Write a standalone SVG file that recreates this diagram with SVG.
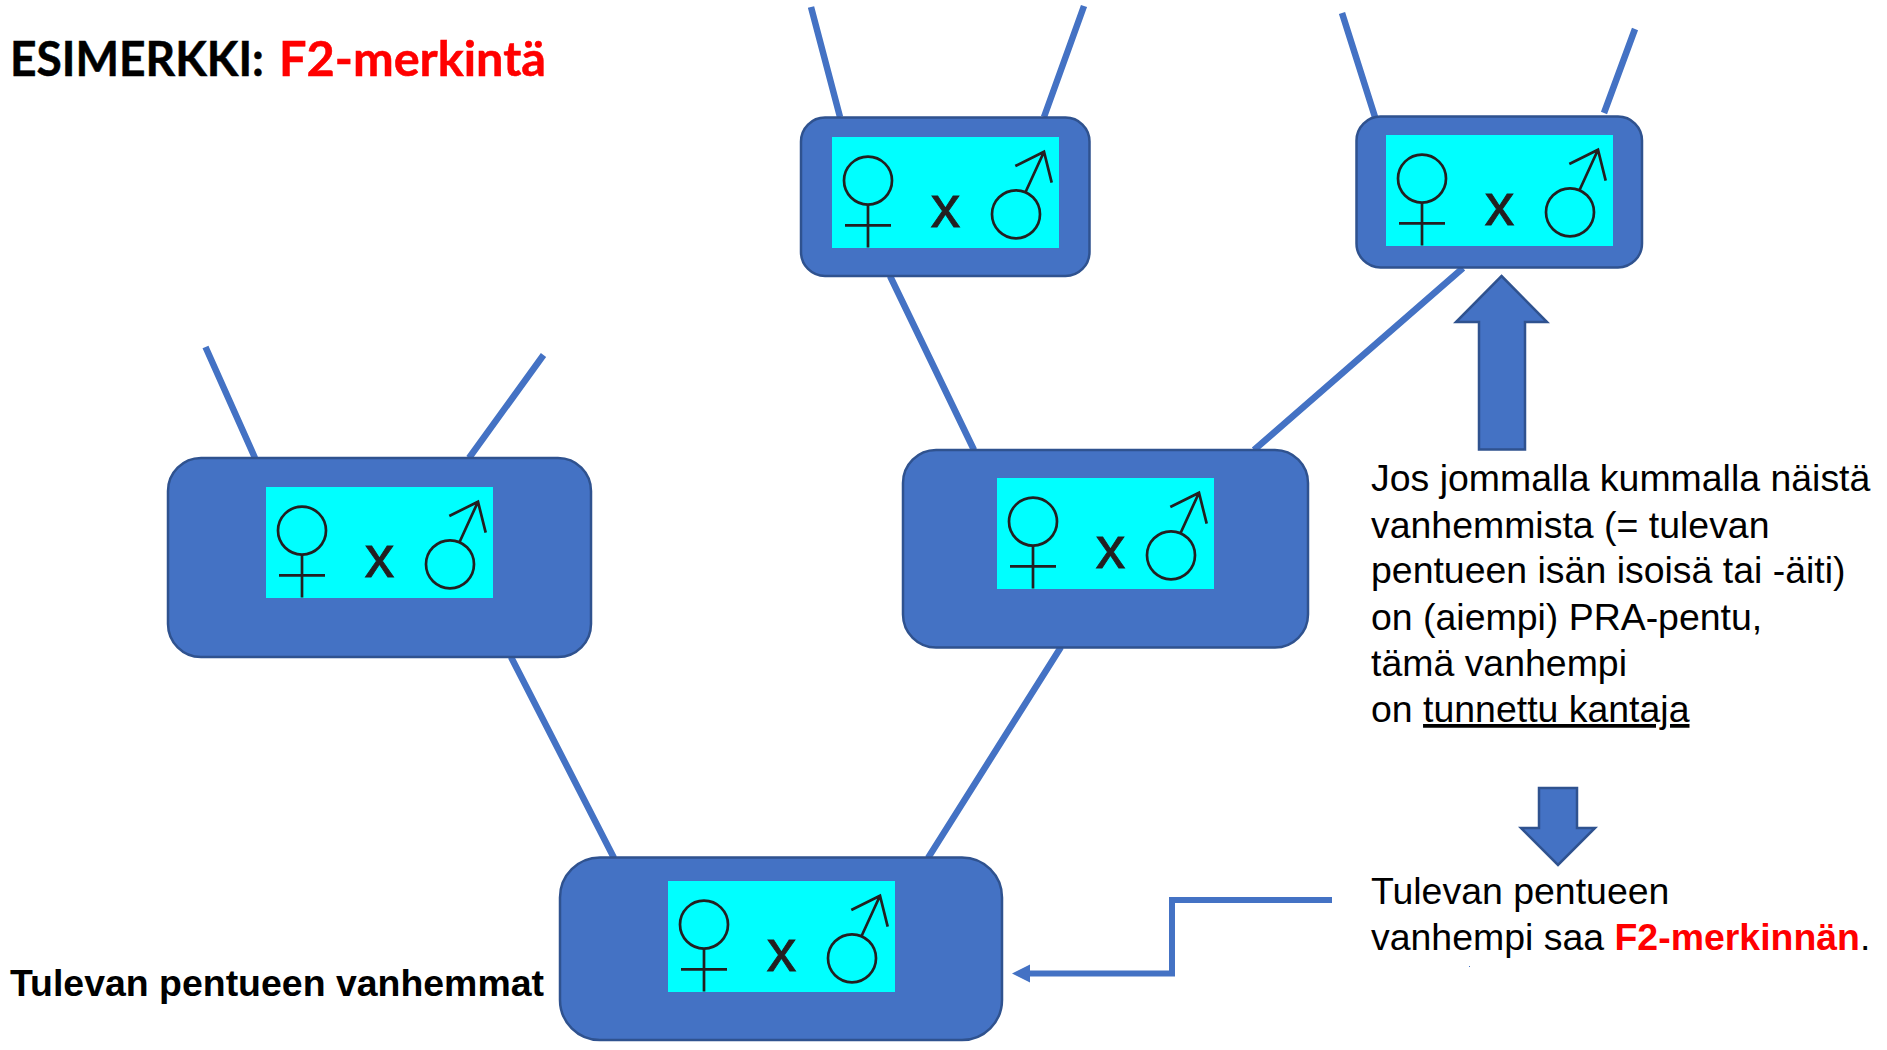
<svg xmlns="http://www.w3.org/2000/svg" width="1887" height="1050" viewBox="0 0 1887 1050">
<style>
.box{fill:#4472c4;stroke:#2f528f;stroke-width:2.5}
.cy{fill:#00ffff}
.ln{fill:none;stroke:#4472c4;stroke-width:6.5}
.el{fill:none;stroke:#4472c4;stroke-width:6}
.sy{fill:none;stroke:#231f20;stroke-width:2.7}
.x{font:59px "Liberation Sans",Arial,sans-serif;fill:#231f20;stroke:#231f20;stroke-width:.9;text-anchor:middle}
.t{font:37.45px "Liberation Sans",Arial,sans-serif;fill:#000}
.b{font-weight:bold}
.r{fill:#ff0000;font-weight:bold}
.h{font:bold 47.8px Lato,"Open Sans","Liberation Sans",sans-serif;stroke-width:.5}
</style>
<defs>
<g id="fem">
<circle class="sy" cx="36" cy="43.6" r="24"/>
<path class="sy" d="M36 67.5V110.5M13 88.3H59"/>
<text class="x" x="113.5" y="90.2">x</text>
</g>
<g id="mal">
<circle class="sy" cx="184" cy="77.3" r="24"/>
<path class="sy" d="M193.7 54.7L212 14.7M183.3 29L212 14.7L219.7 45.7"/>
</g>
</defs>
<g id="connectors">
<path class="ln" d="M811 7L840 117M1084 6L1044 117"/>
<path class="ln" d="M1342 13L1375 117M1635 29L1604 113"/>
<path class="ln" d="M205.5 347L255 458M543.5 355L469 458"/>
<path class="ln" d="M890 276L974 450M1463 268L1254 450"/>
<path class="ln" d="M511 657L614 858M1061 647L928 858"/>
<path class="el" d="M1332 900H1172V973.5H1030"/>
<path fill="#4472c4" d="M1012 973.5L1030 964.5V982.5Z"/>
<rect x="1469" y="966" width="1" height="1" fill="#4472c4"/>
</g>
<g id="node-top"><rect class="box" x="801" y="117.500" width="288.500" height="158.500" rx="24"/><rect class="cy" x="832" y="137" width="227" height="111"/><use href="#fem" x="832" y="137"/><use href="#mal" x="832" y="137"/></g>
<g id="node-top-right"><rect class="box" x="1356.500" y="116.500" width="285.500" height="151" rx="24"/><rect class="cy" x="1386" y="135" width="227" height="111"/><use href="#fem" x="1386" y="135"/><use href="#mal" x="1386" y="135"/></g>
<g id="node-left"><rect class="box" x="168" y="458" width="423" height="199" rx="33"/><rect class="cy" x="266" y="487" width="227" height="111"/><use href="#fem" x="266" y="487"/><use href="#mal" x="266" y="487"/></g>
<g id="node-mid"><rect class="box" x="903" y="450" width="405" height="197.500" rx="33"/><rect class="cy" x="997" y="478" width="217" height="111"/><use href="#fem" x="997" y="478"/><use href="#mal" x="987" y="478"/></g>
<g id="node-bottom"><rect class="box" x="560" y="857.500" width="442" height="182.500" rx="40"/><rect class="cy" x="668" y="881" width="227" height="111"/><use href="#fem" x="668" y="881"/><use href="#mal" x="668" y="881"/></g>
<g id="arrow-up"><path class="box" d="M1501.500 276L1547 322H1525V449.500H1479V322H1456Z"/></g>
<g id="arrow-down"><path class="box" d="M1539 788H1577V828H1595L1558 865L1521 828H1539Z"/></g>
<g id="labels">
<text class="h" x="10" y="76" stroke="#000" textLength="254" lengthAdjust="spacingAndGlyphs">ESIMERKKI:</text>
<text class="h" x="279" y="76" fill="#ff0000" stroke="#ff0000" textLength="267" lengthAdjust="spacingAndGlyphs">F2-merkintä</text>
<text class="t b" x="10" y="996">Tulevan pentueen vanhemmat</text>
<text class="t" x="1371" y="491">Jos jommalla kummalla näistä</text>
<text class="t" x="1371" y="538">vanhemmista (= tulevan</text>
<text class="t" x="1371" y="583">pentueen isän isoisä tai -äiti)</text>
<text class="t" x="1371" y="630">on (aiempi) PRA-pentu,</text>
<text class="t" x="1371" y="676">tämä vanhempi</text>
<text class="t" x="1371" y="722">on <tspan text-decoration="underline">tunnettu kantaja</tspan></text>
<text class="t" x="1371" y="904">Tulevan pentueen</text>
<text class="t" x="1371" y="950">vanhempi saa <tspan class="r">F2-merkinnän</tspan>.</text>
</g>
</svg>
